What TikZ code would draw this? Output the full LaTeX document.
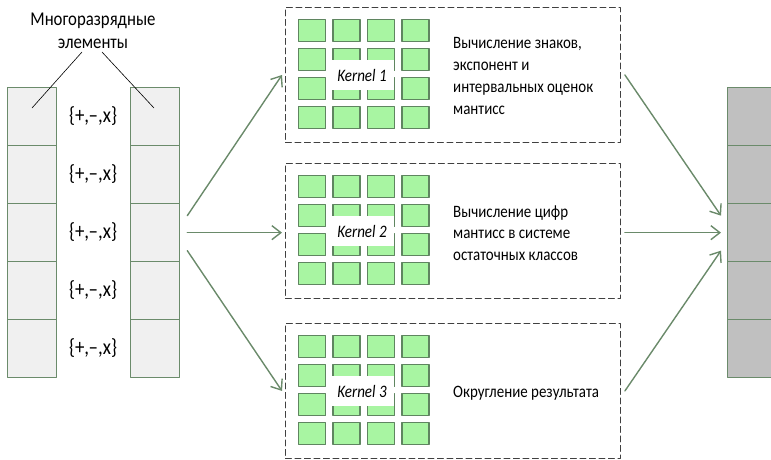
\documentclass[tikz,border=0pt]{standalone}
\usepackage{fontspec}
\setmainfont{Carlito}[FakeStretch=0.86]
\usetikzlibrary{arrows.meta,positioning}
\definecolor{sqfill}{HTML}{A8F5A2}
\definecolor{sqedge}{HTML}{5F8560}
\definecolor{cellfill}{HTML}{F0F0F0}
\definecolor{celledge}{HTML}{6B8B6B}
\definecolor{resfill}{HTML}{C0C0C0}
\definecolor{arrcol}{HTML}{6A8A6A}
\tikzset{
	cell/.style={draw=celledge, fill=cellfill, line width=1.3pt, minimum width=49pt, minimum height=58pt, inner sep=0pt, anchor=north west},
	rescell/.style={cell, fill=resfill, minimum width=60pt},
	kbox/.style={draw=black!75, dash pattern=on 6pt off 3.5pt, line width=0.9pt, minimum width=335pt, minimum height=135pt, inner sep=0pt, anchor=north west},
	sq/.style={draw=sqedge, fill=sqfill, line width=1.4pt, minimum width=27pt, minimum height=22pt, inner sep=0pt, anchor=north west},
	klabel/.style={fill=white, minimum width=64pt, minimum height=30pt, inner sep=0pt, font=\fontsize{17.5}{21}\selectfont\itshape},
	ktext/.style={anchor=west, align=left, inner sep=0pt, font=\fontsize{17.4}{21.7}\selectfont},
	optext/.style={font=\fontsize{22}{25}\selectfont, inner sep=0pt},
	arr/.style={->, draw=arrcol, line width=1.4pt}
}
\begin{document}
\begin{tikzpicture}[x=1pt, y=-1pt, >={Straight Barb[length=9pt,width=14pt]}, font=\fontsize{19.5}{23}\selectfont, line join=round, line cap=round]
	\useasboundingbox (0,0) rectangle (771,459);
	\clip (0,0) rectangle (771,459);
	% столбцы элементов
	\foreach \i in {1,...,5}{
		\node[cell] (L\i) at (7,{87+58*(\i-1)}) {};
		\node[cell] (M\i) at (130,{87+58*(\i-1)}) {};
		\node[rescell] (R\i) at (727,{87+58*(\i-1)}) {};
		\node[optext] (op\i) at (93,{116+58*(\i-1)}) {\{+,–,x\}};
	}
	\node[align=center, inner sep=0pt] (lbl) at (93,31) {Многоразрядные\\элементы};
	\coordinate (pL) at (32,108);
	\coordinate (pM) at (154,108);
	\draw[line width=0.6pt] (82,52) -- (pL);
	\draw[line width=0.6pt] (102,52) -- (pM);
	% ядра
	\foreach \k/\top in {1/7, 2/163, 3/323}{
		\node[kbox] (K\k) at (285,\top) {};
		\foreach \r in {0,...,3}
			\foreach \c in {0,...,3}
				\node[sq] (s\k\r\c) at ({298+34.4*\c},{\top+12+29*\r}) {};
		\node[klabel] (kl\k) at (362,{\top+68}) {Kernel \k};
	}
	\node[ktext] (t1) at (453,76) {Вычисление знаков,\\экспонент и\\интервальных оценок\\мантисс};
	\node[ktext] (t2) at (453,233) {Вычисление цифр\\мантисс в системе\\остаточных классов};
	\node[ktext] (t3) at (453,393) {Округление результата};
	% стрелки
	\draw[arr] ([xshift=7pt,yshift=17pt]M3.east) -- ([xshift=-3pt]K1.west);
	\draw[arr] ([xshift=7pt]M3.east) -- ([xshift=-3pt]M3.east -| K2.west);
	\draw[arr] ([xshift=7pt,yshift=-18pt]M3.east) -- ([xshift=-3pt]K3.west);
	\draw[arr] ([xshift=4pt]K1.east) -- ([xshift=-6pt,yshift=17pt]R3.west);
	\draw[arr] ([xshift=4pt]R3.west -| K2.east) -- ([xshift=-6pt]R3.west);
	\draw[arr] ([xshift=4pt]K3.east) -- ([xshift=-6pt,yshift=-18pt]R3.west);
\end{tikzpicture}
\end{document}
